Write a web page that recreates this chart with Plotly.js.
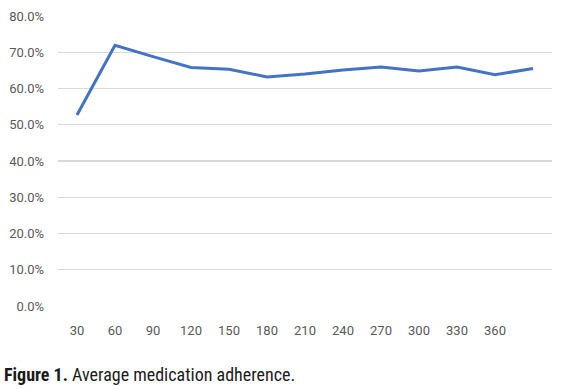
<!DOCTYPE html>
<html>
<head>
<meta charset="utf-8">
<script src="https://cdn.plot.ly/plotly-3.0.1.min.js"></script>
<style>
html,body{margin:0;padding:0;background:#fff;}
#chart{width:562px;height:389px;}
</style>
</head>
<body>
<div id="chart"></div>
<script>
var days = ['30','60','90','120','150','180','210','240','270','300','330','360',' '];
var adherence = [0.527, 0.719, 0.688, 0.658, 0.653, 0.632, 0.640, 0.651, 0.659, 0.648, 0.659, 0.638, 0.655];
var yTicks = [0, 0.1, 0.2, 0.3, 0.4, 0.5, 0.6, 0.7, 0.8];
var caption = '<b>Figure 1.</b> Average medication adherence.';

var capFam = 'Roboto Condensed, DejaVu Sans Condensed, Roboto, sans-serif';
var tickFont = {family: 'Roboto, sans-serif', size: 13, color: '#595959'};

var trace = {
  x: days,
  y: adherence,
  type: 'scatter',
  mode: 'lines',
  line: {color: '#4472C4', width: 3},
  hoverinfo: 'skip'
};

var layout = {
  width: 562,
  height: 389,
  margin: {l: 58, r: 10, t: 16, b: 83},
  paper_bgcolor: '#ffffff',
  plot_bgcolor: '#ffffff',
  showlegend: false,
  xaxis: {
    type: 'category',
    range: [-0.5, days.length - 0.5],
    showgrid: false,
    zeroline: false,
    showline: false,
    ticks: '',
    tickfont: tickFont,
    ticklabelstandoff: 15,
    fixedrange: true
  },
  yaxis: {
    range: [0, 0.8],
    tickvals: yTicks,
    tickformat: '.1%',
    showgrid: true,
    gridcolor: '#d9d9d9',
    gridwidth: 1.3,
    zeroline: false,
    showline: false,
    ticks: '',
    tickfont: tickFont,
    ticklabelstandoff: 13,
    fixedrange: true
  },
  annotations: [{
    text: caption,
    xref: 'paper', yref: 'paper',
    x: 0, y: 0,
    xanchor: 'left', yanchor: 'middle',
    xshift: -56, yshift: -68,
    showarrow: false,
    font: {family: capFam, size: 18, color: '#1a1a1a'}
  }]
};

Plotly.newPlot('chart', [trace], layout, {displayModeBar: false, staticPlot: true});
</script>
</body>
</html>
